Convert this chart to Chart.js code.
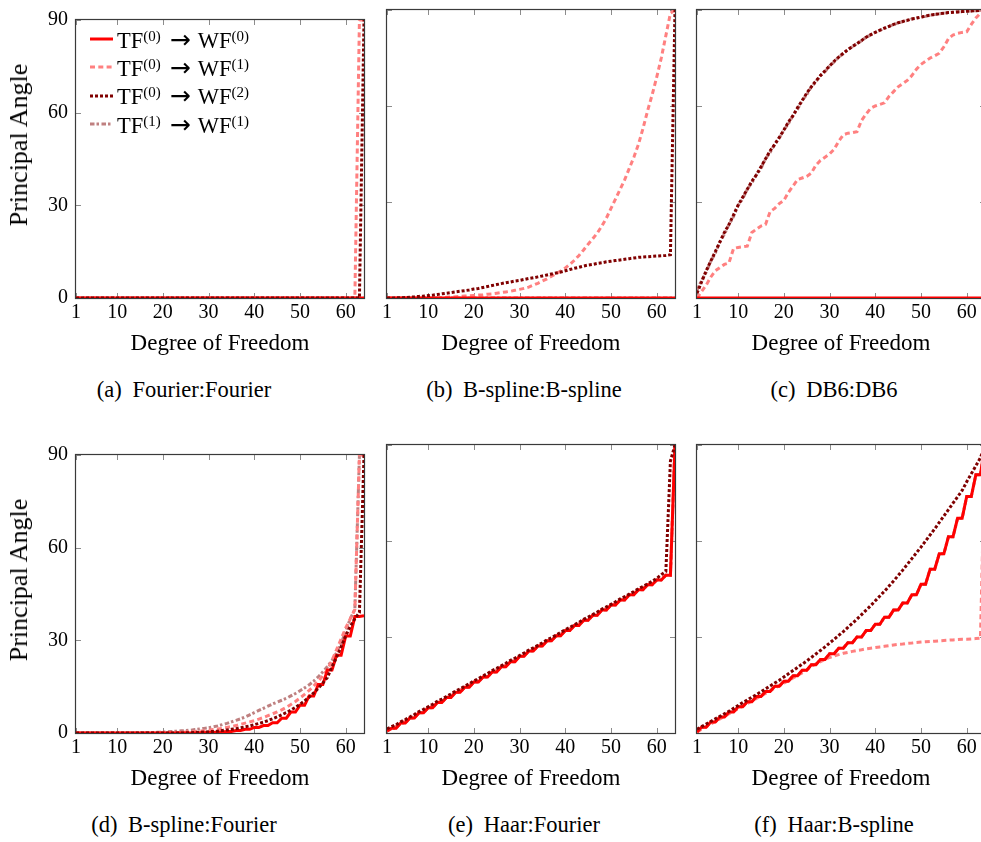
<!DOCTYPE html>
<html lang="en">
<head>
<meta charset="UTF-8">
<title>Principal angles per degree of freedom</title>
<script src="https://cdn.jsdelivr.net/npm/chart.js"></script>
<style>
  html, body { margin: 0; padding: 0; background: #fff; overflow: hidden; }
  #figure { position: relative; width: 981px; height: 842px; overflow: hidden;
            font-family: "Liberation Serif", "Times New Roman", serif; color: #000; }
  #figure canvas { position: absolute; }
  .caption { position: absolute; font-size: 22.5px; line-height: 26px; white-space: nowrap; transform: translateX(-50%); }
  .caption .tag { margin-right: 5px; }
  .ytitle { position: absolute; font-size: 26px; line-height: 28px; white-space: nowrap;
            transform: translate(-50%, -50%) rotate(-90deg); }
  #legend { position: absolute; left: 90px; top: 25px; font-size: 22.5px; }
  #legend .row { height: 28.3px; display: flex; align-items: center; white-space: nowrap; }
  #legend svg { margin-right: 4px; }
  #legend sup { font-size: 15px; vertical-align: baseline; position: relative; top: -7px; }
  #legend .arrow { font-family: "DejaVu Sans", sans-serif; font-size: 25px; margin: 0 7px 0 9px; }
</style>
</head>
<body>
<div id="figure"></div>
<script>
// x axis: degree of freedom
const DOF = [1, 2, 3, 4, 5, 6, 7, 8, 9, 10, 11, 12, 13, 14, 15, 16,
  17, 18, 19, 20, 21, 22, 23, 24, 25, 26, 27, 28, 29, 30, 31, 32,
  33, 34, 35, 36, 37, 38, 39, 40, 41, 42, 43, 44, 45, 46, 47, 48,
  49, 50, 51, 52, 53, 54, 55, 56, 57, 58, 59, 60, 61, 62, 63, 64];
const X_TICKS = [1, 10, 20, 30, 40, 50, 60];
const Y_TICKS = [0, 30, 60, 90];

const SERIES_LABELS = ['TF(0) → WF(0)', 'TF(0) → WF(1)', 'TF(0) → WF(2)', 'TF(1) → WF(1)'];
const LEGEND_HTML = ['TF<sup>(0)</sup><span class="arrow">→</span>WF<sup>(0)</sup>',
  'TF<sup>(0)</sup><span class="arrow">→</span>WF<sup>(1)</sup>',
  'TF<sup>(0)</sup><span class="arrow">→</span>WF<sup>(2)</sup>',
  'TF<sup>(1)</sup><span class="arrow">→</span>WF<sup>(1)</sup>'];
const SERIES_COLORS = ['#ff0000', '#ff8080', '#800000', '#bf8080'];
const SERIES_DASHES = [[], [5, 3.3], [3, 2], [4.5, 2, 2.5, 2.5]];
const SERIES_ORDER = [1, 2, 0, 3]; // dark red on top, dash-dot at the bottom

// (a) Fourier:Fourier
const aTF0WF0 = [0, 0, 0, 0, 0, 0, 0, 0, 0, 0, 0, 0, 0, 0, 0, 0,
  0, 0, 0, 0, 0, 0, 0, 0, 0, 0, 0, 0, 0, 0, 0, 0,
  0, 0, 0, 0, 0, 0, 0, 0, 0, 0, 0, 0, 0, 0, 0, 0,
  0, 0, 0, 0, 0, 0, 0, 0, 0, 0, 0, 0, 0, 0, 0, 0];
const aTF0WF1 = [0, 0, 0, 0, 0, 0, 0, 0, 0, 0, 0, 0, 0, 0, 0, 0,
  0, 0, 0, 0, 0, 0, 0, 0, 0, 0, 0, 0, 0, 0, 0, 0,
  0, 0, 0, 0, 0, 0, 0, 0, 0, 0, 0, 0, 0, 0, 0, 0,
  0, 0, 0, 0, 0, 0, 0, 0, 0, 0, 0, 0, 0, 0, 90, 90];
const aTF0WF2 = [0, 0, 0, 0, 0, 0, 0, 0, 0, 0, 0, 0, 0, 0, 0, 0,
  0, 0, 0, 0, 0, 0, 0, 0, 0, 0, 0, 0, 0, 0, 0, 0,
  0, 0, 0, 0, 0, 0, 0, 0, 0, 0, 0, 0, 0, 0, 0, 0,
  0, 0, 0, 0, 0, 0, 0, 0, 0, 0, 0, 0, 0, 0, 0, 90];
const aTF1WF1 = [0, 0, 0, 0, 0, 0, 0, 0, 0, 0, 0, 0, 0, 0, 0, 0,
  0, 0, 0, 0, 0, 0, 0, 0, 0, 0, 0, 0, 0, 0, 0, 0,
  0, 0, 0, 0, 0, 0, 0, 0, 0, 0, 0, 0, 0, 0, 0, 0,
  0, 0, 0, 0, 0, 0, 0, 0, 0, 0, 0, 0, 0, 0, 0, 0];

// (b) B-spline:B-spline
const bTF0WF0 = [0, 0, 0, 0, 0, 0, 0, 0, 0, 0, 0, 0, 0, 0, 0, 0,
  0, 0, 0, 0, 0, 0, 0, 0, 0, 0, 0, 0, 0, 0, 0, 0,
  0, 0, 0, 0, 0, 0, 0, 0, 0, 0, 0, 0, 0, 0, 0, 0,
  0, 0, 0, 0, 0, 0, 0, 0, 0, 0, 0, 0, 0, 0, 0, 0];
const bTF0WF1 = [0, 0, 0, 0, 0, 0, 0, 0, 0, 0, 0, 0, 0.1, 0.2, 0.3, 0.4,
  0.5, 0.6, 0.7, 0.8, 0.9, 1.0, 1.2, 1.3, 1.5, 1.7, 1.9, 2.1, 2.4, 2.7, 3.0, 3.4,
  4.0, 4.6, 5.3, 6.0, 6.8, 7.6, 8.4, 9.4, 10.5, 11.8, 13.3, 15.0, 16.8, 18.5, 20.3, 22.5,
  25.0, 28.0, 31.0, 34.0, 37.0, 40.5, 44.0, 48.0, 53.0, 58.5, 63.5, 69.0, 75.0, 82.0, 89.0, 90];
const bTF0WF2 = [0, 0, 0.05, 0.1, 0.15, 0.25, 0.35, 0.5, 0.6, 0.75, 0.9, 1.1, 1.3, 1.5, 1.7, 1.9,
  2.1, 2.3, 2.5, 2.8, 3.0, 3.3, 3.6, 3.9, 4.2, 4.5, 4.8, 5.0, 5.3, 5.5, 5.8, 6.1,
  6.3, 6.6, 6.9, 7.2, 7.5, 7.8, 8.1, 8.5, 8.9, 9.3, 9.6, 10.0, 10.3, 10.5, 10.8, 11.0,
  11.3, 11.5, 11.7, 11.9, 12.1, 12.3, 12.5, 12.7, 12.8, 12.9, 13.0, 13.1, 13.2, 13.3, 13.5, 90];
const bTF1WF1 = [0, 0, 0, 0, 0, 0, 0, 0, 0, 0, 0, 0, 0, 0, 0, 0,
  0, 0, 0, 0, 0, 0, 0, 0, 0, 0, 0, 0, 0, 0, 0, 0,
  0, 0, 0, 0, 0, 0, 0, 0, 0, 0, 0, 0, 0, 0, 0, 0,
  0, 0, 0, 0, 0, 0, 0, 0, 0, 0, 0, 0, 0, 0, 0, 0];

// (c) DB6:DB6
const cTF0WF0 = [0, 0, 0, 0, 0, 0, 0, 0, 0, 0, 0, 0, 0, 0, 0, 0,
  0, 0, 0, 0, 0, 0, 0, 0, 0, 0, 0, 0, 0, 0, 0, 0,
  0, 0, 0, 0, 0, 0, 0, 0, 0, 0, 0, 0, 0, 0, 0, 0,
  0, 0, 0, 0, 0, 0, 0, 0, 0, 0, 0, 0, 0, 0, 0, 0];
const cTF0WF1 = [0, 2, 4, 6.5, 8.5, 9.5, 10.5, 11, 15.5, 15.8, 16, 16.2, 20.5, 21.5, 22.5, 23,
  27, 28, 29.5, 30.5, 33, 35, 37, 37.5, 38, 39, 41.5, 43, 44, 45, 46.5, 49,
  51, 51.5, 51.7, 52, 55.5, 57.5, 59.3, 60, 60.5, 61, 63, 64.5, 66, 67, 68, 69.5,
  71.5, 73, 74, 75, 75.7, 76.5, 78.5, 81, 82.2, 82.7, 83, 83.2, 85.5, 87.5, 89, 90];
const cTF0WF2 = [1.5, 5, 8.5, 11.5, 14.5, 17.5, 20.5, 23, 26, 29, 31.5, 34, 36.5, 38.5, 41, 43.5,
  46, 48, 50.2, 52.5, 55, 57, 59.5, 61.7, 64, 66, 67.8, 69.5, 71, 72.5, 74, 75.3,
  76.5, 77.6, 78.6, 79.5, 80.5, 81.5, 82.3, 83, 83.7, 84.3, 84.9, 85.5, 86, 86.4, 86.8, 87.2,
  87.5, 87.8, 88.1, 88.4, 88.6, 88.8, 89, 89.2, 89.3, 89.4, 89.5, 89.6, 89.7, 89.8, 89.9, 90];
const cTF1WF1 = [2.5, 5.5, 8, 11.5, 14, 17.5, 20, 23, 25.5, 29, 31, 34, 36, 38.5, 40.5, 43.5,
  45.5, 48, 50, 52.5, 54.5, 57, 59, 61.7, 63.5, 66, 67.5, 69.5, 70.7, 72.5, 73.8, 75.3,
  76.3, 77.6, 78.5, 79.5, 80.4, 81.5, 82.2, 83, 83.6, 84.3, 84.8, 85.5, 85.9, 86.4, 86.7, 87.2,
  87.4, 87.8, 88, 88.4, 88.6, 88.8, 89, 89.2, 89.3, 89.4, 89.5, 89.6, 89.7, 89.8, 89.9, 90];

// (d) B-spline:Fourier
const dTF0WF0 = [0, 0, 0, 0, 0, 0, 0, 0, 0, 0, 0, 0, 0, 0, 0, 0,
  0, 0, 0, 0, 0, 0, 0, 0, 0, 0, 0, 0.05, 0.05, 0.15, 0.15, 0.3,
  0.3, 0.5, 0.5, 0.8, 0.8, 1.2, 1.2, 1.8, 1.8, 2.4, 2.4, 3.3, 3.3, 4.8, 4.8, 6.8,
  6.8, 9.0, 9.0, 12.0, 12.0, 15.7, 15.7, 20.4, 20.4, 25.2, 25.2, 31.4, 31.4, 37.7, 37.7, 38.0];
const dTF0WF1 = [0, 0, 0, 0, 0, 0, 0, 0, 0, 0, 0, 0, 0, 0, 0, 0,
  0, 0, 0, 0, 0.05, 0.1, 0.15, 0.2, 0.3, 0.4, 0.5, 0.6, 0.7, 0.9, 1.1, 1.3,
  1.5, 1.8, 2.1, 2.4, 2.8, 3.2, 3.6, 4.0, 4.5, 5.0, 5.6, 6.2, 6.8, 7.5, 8.3, 9.2,
  10.2, 11.3, 12.5, 13.8, 15.2, 16.8, 18.5, 20.5, 23.5, 27.0, 30.5, 34.0, 37.0, 40.0, 90, 90];
const dTF0WF2 = [0, 0, 0, 0, 0, 0, 0, 0, 0, 0, 0, 0, 0, 0, 0, 0,
  0, 0, 0, 0, 0, 0, 0, 0, 0.05, 0.1, 0.15, 0.2, 0.3, 0.4, 0.5, 0.6,
  0.8, 1.0, 1.2, 1.4, 1.7, 2.0, 2.3, 2.7, 3.1, 3.5, 4.0, 4.6, 5.2, 5.9, 6.6, 7.4,
  8.3, 9.3, 10.4, 11.6, 13.0, 14.5, 16.2, 18.0, 21.5, 24.5, 28.0, 31.5, 34.5, 37.0, 39.0, 90];
const dTF1WF1 = [0, 0, 0, 0, 0, 0, 0, 0, 0, 0, 0, 0, 0, 0, 0.05, 0.1,
  0.15, 0.2, 0.25, 0.3, 0.4, 0.5, 0.6, 0.7, 0.8, 0.9, 1.1, 1.3, 1.5, 1.7, 2.0, 2.3,
  2.7, 3.1, 3.6, 4.1, 4.6, 5.2, 5.9, 6.6, 7.3, 8.0, 8.7, 9.4, 10.0, 10.6, 11.2, 12.0,
  12.8, 13.7, 14.6, 15.6, 16.8, 18.2, 19.8, 21.5, 23.5, 26.0, 29.0, 33.0, 37.0, 40.0, 90, 90];

// (e) Haar:Fourier
const eTF0WF0 = [0.6, 1.5, 1.5, 3.1, 3.1, 4.7, 4.7, 6.3, 6.3, 7.9, 7.9, 9.5, 9.5, 11.1, 11.1, 12.7,
  12.7, 14.3, 14.3, 15.9, 15.9, 17.5, 17.5, 19.1, 19.1, 20.7, 20.7, 22.3, 22.3, 24.0, 24.0, 25.6,
  25.6, 27.2, 27.2, 28.8, 28.8, 30.4, 30.4, 32.0, 32.0, 33.6, 33.6, 35.2, 35.2, 36.8, 36.8, 38.4,
  38.4, 40.0, 40.0, 41.6, 41.6, 43.2, 43.2, 44.8, 44.8, 46.3, 46.3, 47.8, 47.8, 49.3, 49.3, 90];
const eTF0WF1 = [0.6, 1.4, 2.2, 3.0, 3.8, 4.6, 5.4, 6.2, 7.0, 7.8, 8.6, 9.4, 10.2, 11.0, 11.8, 12.6,
  13.4, 14.2, 15.0, 15.8, 16.6, 17.4, 18.2, 19.0, 19.8, 20.6, 21.4, 22.2, 23.0, 23.8, 24.6, 25.4,
  26.2, 27.0, 27.8, 28.6, 29.4, 30.2, 31.0, 31.8, 32.6, 33.4, 34.2, 35.0, 35.8, 36.6, 37.4, 38.2,
  39.0, 39.8, 40.6, 41.4, 42.2, 43.0, 43.8, 44.6, 45.4, 46.2, 47.0, 47.8, 48.6, 49.3, 49.3, 90];
const eTF0WF2 = [1.3, 2.0, 2.6, 3.5, 4.2, 5.0, 5.8, 6.7, 7.4, 8.2, 9.0, 9.9, 10.6, 11.4, 12.2, 13.1,
  13.8, 14.6, 15.4, 16.3, 17.0, 17.8, 18.6, 19.5, 20.2, 21.0, 21.8, 22.7, 23.4, 24.2, 25.0, 25.9,
  26.6, 27.4, 28.2, 29.1, 29.8, 30.6, 31.4, 32.3, 33.0, 33.8, 34.6, 35.5, 36.2, 37.0, 37.8, 38.7,
  39.4, 40.2, 41.0, 41.9, 42.6, 43.4, 44.2, 45.1, 45.8, 46.6, 47.4, 48.3, 49.5, 50.5, 85.0, 90];
const eTF1WF1 = [0.6, 1.5, 1.5, 3.1, 3.1, 4.7, 4.7, 6.3, 6.3, 7.9, 7.9, 9.5, 9.5, 11.1, 11.1, 12.7,
  12.7, 14.3, 14.3, 15.9, 15.9, 17.5, 17.5, 19.1, 19.1, 20.7, 20.7, 22.3, 22.3, 24.0, 24.0, 25.6,
  25.6, 27.2, 27.2, 28.8, 28.8, 30.4, 30.4, 32.0, 32.0, 33.6, 33.6, 35.2, 35.2, 36.8, 36.8, 38.4,
  38.4, 40.0, 40.0, 41.6, 41.6, 43.2, 43.2, 44.8, 44.8, 46.3, 46.3, 47.8, 47.8, 49.3, 49.3, 90];

// (f) Haar:B-spline
const fTF0WF0 = [0.3, 1.8, 1.8, 3.4, 3.4, 5.0, 5.0, 6.6, 6.6, 8.2, 8.2, 9.8, 9.8, 11.4, 11.4, 13.0,
  13.0, 14.6, 14.6, 16.2, 16.2, 17.9, 17.9, 19.6, 19.6, 21.3, 21.3, 23.0, 23.0, 24.8, 24.8, 26.5,
  26.5, 28.2, 28.2, 30.0, 30.0, 32.0, 32.0, 34.0, 34.0, 36.2, 36.2, 38.4, 38.4, 40.6, 40.6, 43.2,
  43.2, 46.5, 46.5, 51.2, 51.2, 56.0, 56.0, 61.3, 61.3, 67.1, 67.1, 73.9, 73.9, 80.7, 80.7, 90];
const fTF0WF1 = [0.3, 1.2, 2.0, 2.8, 3.6, 4.4, 5.2, 6.0, 6.8, 7.6, 8.4, 9.2, 10.0, 10.8, 11.6, 12.4,
  13.2, 14.0, 14.8, 15.6, 16.4, 17.2, 18.0, 18.8, 19.6, 20.8, 21.6, 22.3, 23.0, 23.6, 24.1, 24.5,
  24.9, 25.2, 25.5, 25.8, 26.0, 26.3, 26.5, 26.7, 26.9, 27.1, 27.3, 27.5, 27.7, 27.8, 28.0, 28.1,
  28.3, 28.4, 28.5, 28.6, 28.7, 28.8, 28.9, 29.0, 29.1, 29.2, 29.3, 29.3, 29.4, 29.5, 29.6, 90];
const fTF0WF2 = [1.2, 2.0, 2.8, 3.6, 4.4, 5.2, 6.0, 6.8, 7.7, 8.6, 9.5, 10.3, 11.2, 12.0, 12.9, 13.8,
  14.7, 15.6, 16.5, 17.5, 18.5, 19.5, 20.5, 21.5, 22.5, 23.6, 24.7, 25.8, 26.9, 28.1, 29.3, 30.5,
  31.7, 33.0, 34.3, 35.6, 37.0, 38.4, 39.8, 41.3, 42.8, 44.3, 45.9, 47.5, 49.2, 50.9, 52.7, 54.5,
  56.3, 58.1, 60.0, 61.9, 63.8, 65.8, 67.8, 69.8, 71.8, 73.8, 75.8, 78.5, 81.0, 83.5, 86.0, 90];
const fTF1WF1 = [0.3, 1.8, 1.8, 3.4, 3.4, 5.0, 5.0, 6.6, 6.6, 8.2, 8.2, 9.8, 9.8, 11.4, 11.4, 13.0,
  13.0, 14.6, 14.6, 16.2, 16.2, 17.9, 17.9, 19.6, 19.6, 21.3, 21.3, 23.0, 23.0, 24.8, 24.8, 26.5,
  26.5, 28.2, 28.2, 30.0, 30.0, 32.0, 32.0, 34.0, 34.0, 36.2, 36.2, 38.4, 38.4, 40.6, 40.6, 43.2,
  43.2, 46.5, 46.5, 51.2, 51.2, 56.0, 56.0, 61.3, 61.3, 67.1, 67.1, 73.9, 73.9, 80.7, 80.7, 90];

// layout of the 2x3 grid (plot area corners in page pixels)
const PANELS = [
  { tag: '(a)', name: 'Fourier:Fourier', left: 76, top: 10, yLabels: true, cx: 184, series: [aTF0WF0, aTF0WF1, aTF0WF2, aTF1WF1] },
  { tag: '(b)', name: 'B-spline:B-spline', left: 387, top: 10, yLabels: false, cx: 524, series: [bTF0WF0, bTF0WF1, bTF0WF2, bTF1WF1] },
  { tag: '(c)', name: 'DB6:DB6', left: 697, top: 10, yLabels: false, cx: 834, series: [cTF0WF0, cTF0WF1, cTF0WF2, cTF1WF1] },
  { tag: '(d)', name: 'B-spline:Fourier', left: 76, top: 445, yLabels: true, cx: 184, series: [dTF0WF0, dTF0WF1, dTF0WF2, dTF1WF1] },
  { tag: '(e)', name: 'Haar:Fourier', left: 387, top: 445, yLabels: false, cx: 524, series: [eTF0WF0, eTF0WF1, eTF0WF2, eTF1WF1] },
  { tag: '(f)', name: 'Haar:B-spline', left: 697, top: 445, yLabels: false, cx: 834, series: [fTF0WF0, fTF0WF1, fTF0WF2, fTF1WF1] }
];

const SERIF = '"Liberation Serif", "Times New Roman", serif';
const PLOT = 288, Y_AXIS_W = 76, X_AXIS_H = 64, PAD_TOP = 10, PAD_RIGHT = 16;

// pgfplots-like box with inward ticks on all four sides
const frameTicks = {
  id: 'frameTicks',
  beforeDatasetsDraw(chart) {
    const { ctx, chartArea: { left, right, top, bottom }, scales: { x, y } } = chart;
    ctx.save();
    ctx.strokeStyle = '#8c8c8c';
    ctx.lineWidth = 1;
    ctx.beginPath();
    x.ticks.forEach(t => {
      const px = Math.round(x.getPixelForValue(t.value)) + 0.5;
      ctx.moveTo(px, bottom); ctx.lineTo(px, bottom - 5);
      ctx.moveTo(px, top); ctx.lineTo(px, top + 5);
    });
    y.ticks.forEach(t => {
      const py = Math.round(y.getPixelForValue(t.value)) + 0.5;
      ctx.moveTo(left, py); ctx.lineTo(left + 5, py);
      ctx.moveTo(right, py); ctx.lineTo(right - 5, py);
    });
    ctx.stroke();
    ctx.strokeStyle = '#3a3a3a';
    ctx.lineWidth = 1.2;
    ctx.strokeRect(left - 0.5, top - 0.5, right - left + 1, bottom - top + 1);
    ctx.restore();
  }
};

const fig = document.getElementById('figure');

PANELS.forEach(p => {
  const canvas = document.createElement('canvas');
  canvas.width = Y_AXIS_W + PLOT + PAD_RIGHT;
  canvas.height = PAD_TOP + PLOT + X_AXIS_H;
  canvas.style.left = (p.left - Y_AXIS_W) + 'px';
  canvas.style.top = (p.top - PAD_TOP) + 'px';
  fig.appendChild(canvas);

  new Chart(canvas, {
    type: 'line',
    data: {
      datasets: p.series.map((vals, i) => ({
        label: SERIES_LABELS[i],
        data: DOF.map((d, k) => ({ x: d, y: vals[k] })),
        borderColor: SERIES_COLORS[i],
        borderWidth: 3,
        borderDash: SERIES_DASHES[i],
        borderCapStyle: 'butt',
        borderJoinStyle: 'miter',
        pointRadius: 0,
        tension: 0,
        fill: false,
        order: SERIES_ORDER[i]
      }))
    },
    options: {
      responsive: false,
      animation: false,
      devicePixelRatio: 1,
      events: [],
      layout: { padding: { top: PAD_TOP, right: PAD_RIGHT, bottom: 0, left: 0 } },
      plugins: { legend: { display: false }, tooltip: { enabled: false } },
      scales: {
        x: {
          type: 'linear', min: 1, max: 64,
          afterBuildTicks: s => { s.ticks = X_TICKS.map(v => ({ value: v })); },
          afterFit: s => { s.height = X_AXIS_H; },
          grid: { display: false, drawTicks: false },
          border: { display: false },
          ticks: { color: '#000', font: { family: SERIF, size: 20 }, padding: 3, maxRotation: 0, autoSkip: false },
          title: { display: true, text: 'Degree of Freedom', color: '#000',
                   font: { family: SERIF, size: 23 }, padding: { top: 0, bottom: 4 } }
        },
        y: {
          type: 'linear', min: 0, max: 90,
          afterBuildTicks: s => { s.ticks = Y_TICKS.map(v => ({ value: v })); },
          afterFit: s => { s.width = Y_AXIS_W; },
          grid: { display: false, drawTicks: false },
          border: { display: false },
          ticks: { display: p.yLabels, color: '#000', font: { family: SERIF, size: 20 }, padding: 8 }
        }
      }
    },
    plugins: [frameTicks]
  });

  if (p.yLabels) {
    const yt = document.createElement('div');
    yt.className = 'ytitle';
    yt.style.left = '19px';
    yt.style.top = (p.top + 135) + 'px';
    yt.textContent = 'Principal Angle';
    fig.appendChild(yt);
  }

  const cap = document.createElement('div');
  cap.className = 'caption';
  cap.style.left = p.cx + 'px';
  cap.style.top = (p.top + PLOT + 92 - 13) + 'px';
  cap.innerHTML = '<span class="tag">' + p.tag + '</span> ' + p.name;
  fig.appendChild(cap);
});

// legend inside panel (a)
const legend = document.createElement('div');
legend.id = 'legend';
SERIES_LABELS.forEach((lab, i) => {
  const row = document.createElement('div');
  row.className = 'row';
  row.title = lab;
  row.innerHTML =
    '<svg width="23" height="8"><line x1="0" y1="4" x2="23" y2="4" stroke="' + SERIES_COLORS[i] +
    '" stroke-width="3" stroke-dasharray="' + (SERIES_DASHES[i].join(' ') || 'none') + '"/></svg>' +
    '<span>' + LEGEND_HTML[i] + '</span>';
  legend.appendChild(row);
});
fig.appendChild(legend);
</script>
</body>
</html>
